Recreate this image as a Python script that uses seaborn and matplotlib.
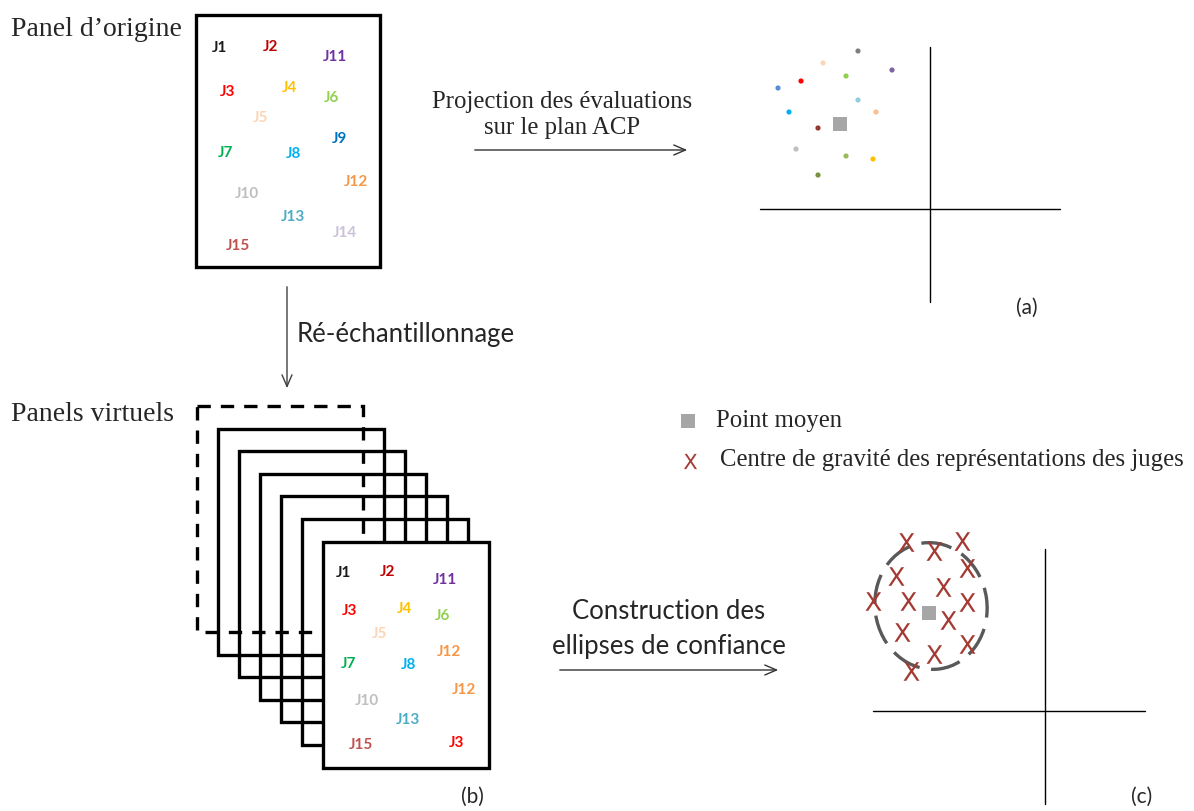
import matplotlib
matplotlib.use("Agg")
import matplotlib.pyplot as plt
import seaborn as sns
from matplotlib.patches import Rectangle, Ellipse

sns.set_theme(style="white")

# ======================
# DATA (pixel-like diagram coordinates)
# ======================

judge_colors = {
    "J1": "#1a1a1a", "J2": "#c00000", "J3": "#ff0000", "J4": "#ffc000",
    "J5": "#fbd5b5", "J6": "#92d050", "J7": "#00b050", "J8": "#00b0f0",
    "J9": "#0070c0", "J10": "#bfbfbf", "J11": "#7030a0", "J12": "#f79646",
    "J13": "#4bacc6", "J14": "#ccc1da", "J15": "#c0504d",
}

# original panel
orig_labels = ["J1", "J2", "J11", "J3", "J4", "J6", "J5", "J9", "J7", "J8",
               "J12", "J10", "J13", "J14", "J15"]
orig_x = [220, 271, 335, 228, 289, 332, 261, 339, 226, 294, 356, 247, 293, 345, 238]
orig_y = [48, 47, 57, 92, 88, 98, 118, 139, 153, 154, 182, 194, 217, 233, 246]

# virtual panel (resampled)
virt_labels = ["J1", "J2", "J11", "J3", "J4", "J6", "J5", "J12", "J7", "J8",
               "J12", "J10", "J13", "J15", "J3"]
virt_x = [344, 388, 445, 350, 404, 443, 380, 449, 349, 409, 464, 367, 408, 361, 457]
virt_y = [573, 572, 580, 611, 609, 616, 634, 652, 664, 665, 690, 701, 720, 745, 743]

# projected judges on PCA plane (a)
proj_colors = ["#7f7f7f", "#fbd5b5", "#8064a2", "#92d050", "#ff0000",
               "#558ed5", "#93cddd", "#00b0f0", "#fac090", "#953735",
               "#bfbfbf", "#9bbb59", "#ffc000", "#77933c"]
proj_x = [858, 823, 892, 846, 801, 778, 858, 789, 876, 818, 796, 846, 873, 818]
proj_y = [52, 64, 71, 77, 82, 89, 101, 113, 113, 129, 150, 157, 160, 176]
mean_a = (840, 125)

# centres of gravity (c)
cog_x = [906, 934, 962, 896, 967, 943, 873, 908, 967, 948, 902, 967, 934, 911]
cog_y = [543, 552, 542, 577, 569, 588, 602, 602, 603, 621, 633, 645, 655, 672]
mean_c = (929, 614)

SERIF = ["Liberation Serif", "DejaVu Serif"]
SANS = ["Lato", "DejaVu Sans"]
X_COLOR = "#a33a33"
ARROW = "->,head_length=0.7,head_width=0.3"

# ======================
# FIGURE
# ======================

fig = plt.figure(figsize=(11.94, 8.12), dpi=100)
ax = fig.add_axes([0, 0, 1, 1])
ax.set_xlim(0, 1194)
ax.set_ylim(812, 0)
ax.axis("off")

# --- panel d'origine ---
ax.text(11, 30, "Panel d\u2019origine", family=SERIF, fontsize=20, va="center", ha="left")
ax.add_patch(Rectangle((196, 16), 184, 252, fill=False, lw=2.4, ec="black"))
for lab, x, y in zip(orig_labels, orig_x, orig_y):
    ax.text(x, y, lab, family=SANS, fontweight="bold", fontsize=11,
            color=judge_colors[lab], ha="center", va="center")

# --- projection arrow ---
ax.text(562, 102, "Projection des évaluations", family=SERIF, fontsize=17.8, ha="center", va="center")
ax.text(562, 128, "sur le plan ACP", family=SERIF, fontsize=17.8, ha="center", va="center")
ax.annotate("", xy=(690, 151), xytext=(472, 151),
            arrowprops=dict(arrowstyle=ARROW, lw=1, color="#333333"))

# --- plot (a) ---
ax.plot([930, 930], [48, 303], color="black", lw=1)
ax.plot([760, 1060], [210, 210], color="black", lw=1)
sns.scatterplot(x=proj_x, y=proj_y, hue=list(range(len(proj_x))), palette=proj_colors,
                s=14, linewidth=0, legend=False, ax=ax)
ax.scatter([mean_a[0]], [mean_a[1]], marker="s", s=100, color="#a6a6a6", linewidths=0)
ax.text(1027, 308, "(a)", family=SANS, fontsize=15, ha="center", va="center")

# --- resampling arrow ---
ax.annotate("", xy=(287, 392), xytext=(287, 285),
            arrowprops=dict(arrowstyle=ARROW, lw=1, color="#404040"))
ax.text(297, 335, "Ré-échantillonnage", family=SANS, fontsize=18.5, ha="left", va="center")

# --- panels virtuels ---
ax.text(11, 415, "Panels virtuels", family=SERIF, fontsize=20, va="center", ha="left")
ax.add_patch(Rectangle((197, 407), 166, 226, fill=False, lw=2.4, ec="black",
                       ls=(0, (4, 3))))
for i in range(1, 6):
    ax.add_patch(Rectangle((197 + 21 * i, 407 + 22.5 * i), 166, 226,
                           fill=False, lw=2.4, ec="black"))
ax.add_patch(Rectangle((323, 543), 166, 226, fc="white", lw=2.4, ec="black", zorder=3))
for lab, x, y in zip(virt_labels, virt_x, virt_y):
    ax.text(x, y, lab, family=SANS, fontweight="bold", fontsize=11,
            color=judge_colors[lab], ha="center", va="center", zorder=4)
ax.text(472, 797, "(b)", family=SANS, fontsize=15, ha="center", va="center")

# --- legend ---
ax.scatter([688], [422], marker="s", s=90, color="#a6a6a6", linewidths=0)
ax.text(716, 421, "Point moyen", family=SERIF, fontsize=17.8, ha="left", va="center")
ax.scatter([690], [462], marker=r"$\mathsf{X}$", s=120, color=X_COLOR, linewidths=0)
ax.text(720, 460, "Centre de gravité des représentations des juges", family=SERIF,
        fontsize=17.8, ha="left", va="center")

# --- ellipse arrow ---
ax.text(669, 612, "Construction des", family=SANS, fontsize=18.5, ha="center", va="center")
ax.text(669, 647, "ellipses de confiance", family=SANS, fontsize=18.5, ha="center", va="center")
ax.annotate("", xy=(781, 671), xytext=(557, 671),
            arrowprops=dict(arrowstyle=ARROW, lw=1, color="#333333"))

# --- plot (c) ---
ax.plot([1045, 1045], [550, 805], color="black", lw=1)
ax.plot([873, 1145], [712, 712], color="black", lw=1)
ax.add_patch(Ellipse((931, 607), 112, 127, angle=-8, fill=False, ec="#595959",
                     lw=2.4, ls=(0, (9, 3.5))))
sns.scatterplot(x=cog_x, y=cog_y, marker=r"$\mathsf{X}$", s=180, color=X_COLOR,
                linewidth=0, legend=False, ax=ax)
ax.scatter([mean_c[0]], [mean_c[1]], marker="s", s=100, color="#a6a6a6", linewidths=0)
ax.text(1142, 797, "(c)", family=SANS, fontsize=15, ha="center", va="center")

fig.savefig("out.png", dpi=100)
